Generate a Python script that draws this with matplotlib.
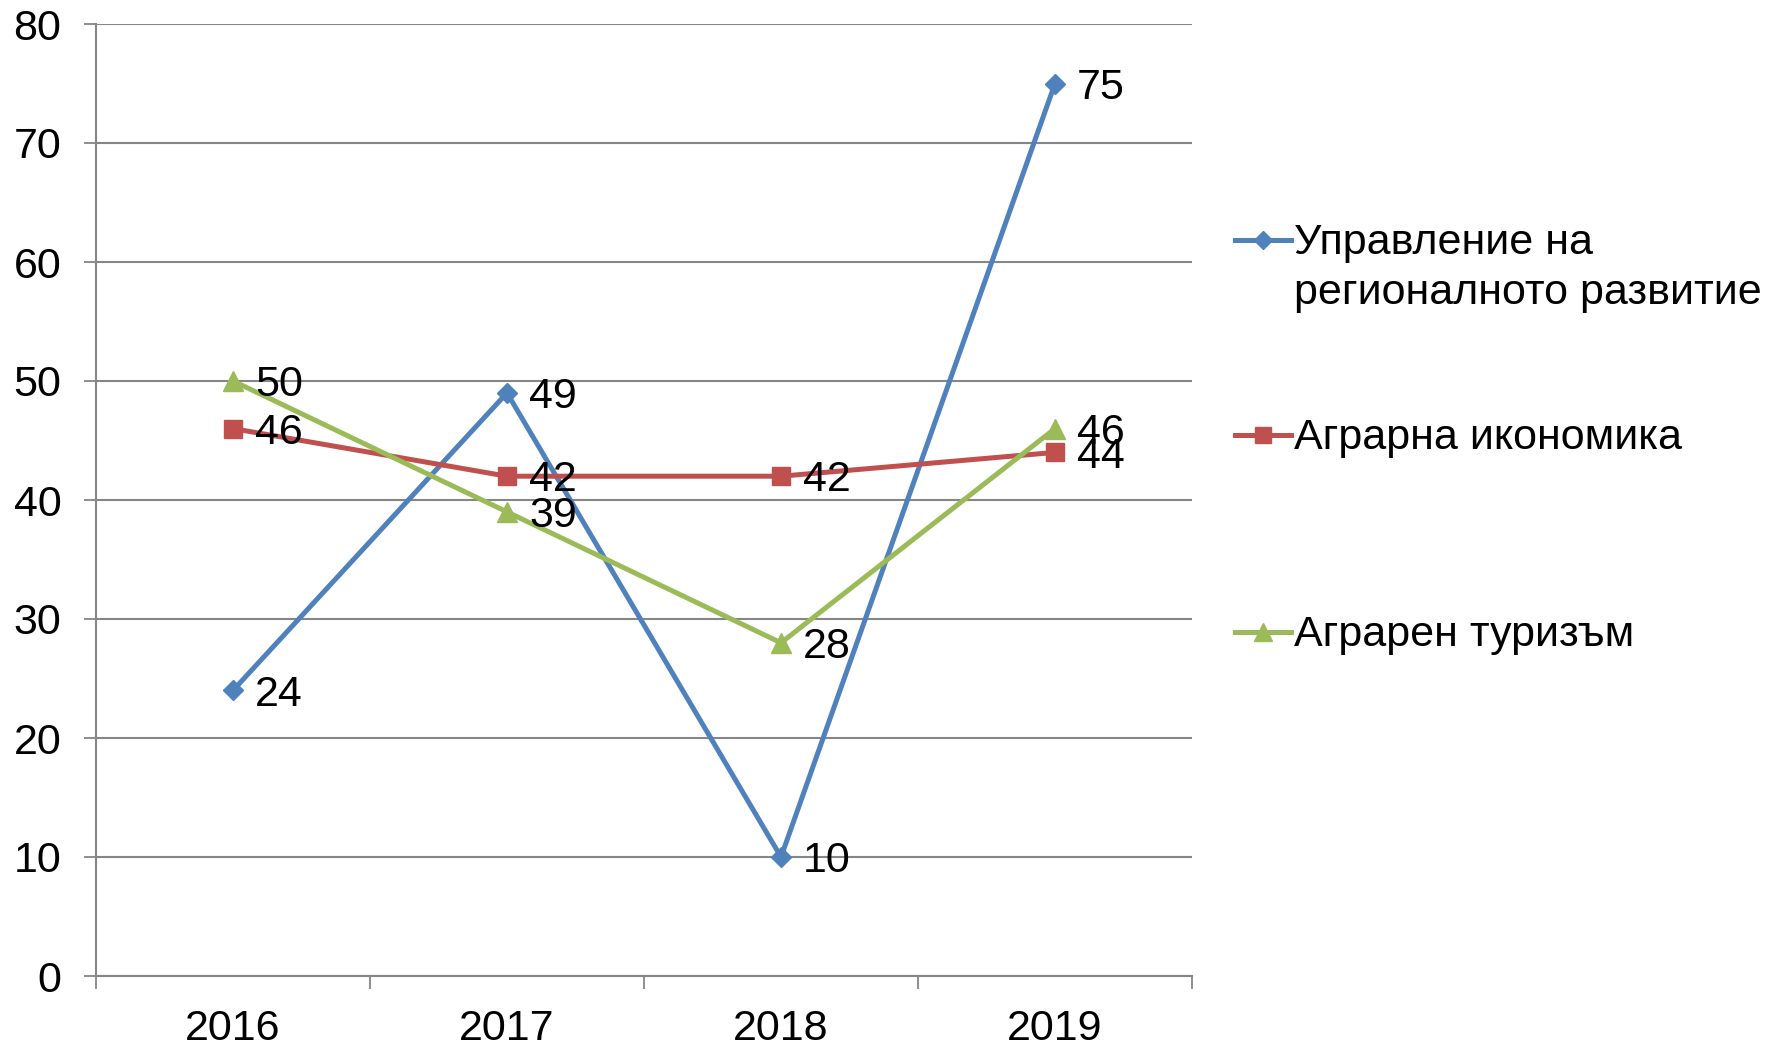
import matplotlib
matplotlib.use("Agg")
import matplotlib.pyplot as plt
from matplotlib.lines import Line2D

years = ["2016", "2017", "2018", "2019"]
series_names = ["Управление на\nрегионалното развитие", "Аграрна икономика", "Аграрен туризъм"]
upravlenie = [24, 49, 10, 75]
agrarna = [46, 42, 42, 44]
turizam = [50, 39, 28, 46]
yticks = [0, 10, 20, 30, 40, 50, 60, 70, 80]

colors = ["#4F81BD", "#C0504D", "#9BBB59"]
markers = ["D", "s", "^"]
msizes = [10, 13.5, 15]
values = [upravlenie, agrarna, turizam]

plt.rcParams['font.family'] = ['Liberation Sans', 'DejaVu Sans']
FS = 31

W, H = 1777, 1047
fig = plt.figure(figsize=(W / 100, H / 100), dpi=100)
ax = fig.add_axes([96 / W, 1 - 976 / H, (1192 - 96) / W, (976 - 24) / H])

xs = [i + 0.5 for i in range(len(years))]
grid_c = "#868686"

for vals, c, m, ms in zip(values, colors, markers, msizes):
    ax.plot(xs, vals, color=c, lw=3.6, marker=m, ms=ms, mfc=c, mec=c, zorder=3, clip_on=False)
    for x, v in zip(xs, vals):
        ax.annotate(str(v), (x, v), xytext=(16, -3), textcoords="offset points",
                    fontsize=FS, va="center", ha="left", zorder=4)

ax.set_xlim(0, len(years))
ax.set_ylim(0, 80)
ax.set_yticks(yticks)
ax.set_yticklabels([str(t) for t in yticks], fontsize=FS)
ax.set_xticks(range(len(years) + 1))
ax.set_xticklabels([])
ax.set_xticks(xs, minor=True)
ax.set_xticklabels(years, minor=True, fontsize=FS)
ax.tick_params(axis="x", which="minor", length=0, pad=24)
ax.tick_params(axis="x", which="major", length=9, width=1.3, color=grid_c)
ax.tick_params(axis="y", length=9, width=1.3, color=grid_c, pad=16)
ax.grid(axis="y", color=grid_c, lw=1.5)
ax.set_axisbelow(True)
for s in ["top", "right"]:
    ax.spines[s].set_visible(False)
for s in ["left", "bottom"]:
    ax.spines[s].set_color(grid_c)
    ax.spines[s].set_linewidth(1.5)

# legend
leg_y = [240, 435, 632]
leg_ms = [9, 12, 13]
for name, c, m, ms, y in zip(series_names, colors, markers, leg_ms, leg_y):
    fy = 1 - y / H
    fig.add_artist(Line2D([1235 / W, 1291 / W], [fy, fy], color=c, lw=3.6,
                          transform=fig.transFigure))
    fig.add_artist(Line2D([1263 / W], [fy], color=c, marker=m, ms=ms, mfc=c, mec=c,
                          transform=fig.transFigure))
    fig.text(1294 / W, fy + 17 / H, name, fontsize=FS, va="top", ha="left", linespacing=1.33)

fig.savefig("out.png", dpi=100)
